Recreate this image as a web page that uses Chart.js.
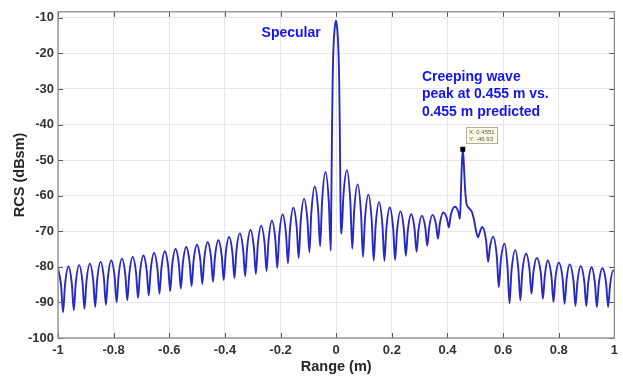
<!DOCTYPE html>
<html>
<head>
<meta charset="utf-8">
<script src="https://cdn.jsdelivr.net/npm/chart.js@4.4.1/dist/chart.umd.min.js"></script>
<style>
  html, body { margin: 0; padding: 0; background: #ffffff; }
  #wrap { width: 623px; height: 377px; }
</style>
</head>
<body>
<div id="wrap"><canvas id="c" width="623" height="377"></canvas></div>
<script>
// ---- data ----
const rangeM = [
-1.0000,-0.9888,-0.9818,-0.9748,-0.9625,-0.9503,-0.9433,-0.9363,-0.9240,-0.9118,-0.9048,-0.8978,
-0.8855,-0.8733,-0.8663,-0.8593,-0.8470,-0.8348,-0.8278,-0.8208,-0.8085,-0.7963,-0.7893,-0.7823,
-0.7700,-0.7578,-0.7508,-0.7438,-0.7315,-0.7193,-0.7123,-0.7053,-0.6930,-0.6808,-0.6738,-0.6668,
-0.6545,-0.6423,-0.6353,-0.6283,-0.6160,-0.6038,-0.5968,-0.5898,-0.5775,-0.5653,-0.5583,-0.5513,
-0.5390,-0.5268,-0.5198,-0.5128,-0.5005,-0.4883,-0.4813,-0.4743,-0.4620,-0.4498,-0.4428,-0.4358,
-0.4235,-0.4113,-0.4043,-0.3973,-0.3850,-0.3728,-0.3658,-0.3588,-0.3465,-0.3343,-0.3273,-0.3203,
-0.3080,-0.2958,-0.2888,-0.2818,-0.2695,-0.2573,-0.2503,-0.2433,-0.2310,-0.2188,-0.2118,-0.2048,
-0.1925,-0.1803,-0.1733,-0.1663,-0.1540,-0.1418,-0.1348,-0.1278,-0.1155,-0.1033,-0.0963,-0.0893,
-0.0770,-0.0648,-0.0578,-0.0508,-0.0385,-0.0263,-0.0195,-0.0178,-0.0163,-0.0148,-0.0128,-0.0098,
-0.0058,-0.0010,0.0038,0.0078,0.0108,0.0128,0.0143,0.0158,0.0190,0.0260,0.0385,0.0508,
0.0578,0.0648,0.0770,0.0893,0.0963,0.1033,0.1155,0.1278,0.1348,0.1418,0.1540,0.1663,
0.1733,0.1803,0.1925,0.2048,0.2118,0.2188,0.2310,0.2433,0.2503,0.2573,0.2695,0.2818,
0.2888,0.2958,0.3080,0.3203,0.3273,0.3343,0.3465,0.3588,0.3658,0.3728,0.3850,0.3980,
0.4050,0.4120,0.4270,0.4390,0.4450,0.4490,0.4520,0.4551,0.4585,0.4625,0.4670,0.4720,
0.4800,0.4880,0.4960,0.5030,0.5100,0.5165,0.5250,0.5390,0.5460,0.5530,0.5640,0.5775,
0.5845,0.5915,0.6050,0.6160,0.6230,0.6300,0.6440,0.6550,0.6620,0.6690,0.6830,0.6950,
0.7020,0.7090,0.7210,0.7360,0.7430,0.7500,0.7600,0.7740,0.7810,0.7880,0.8000,0.8140,
0.8210,0.8280,0.8390,0.8530,0.8600,0.8670,0.8790,0.8920,0.8990,0.9060,0.9180,0.9300,
0.9370,0.9440,0.9570,0.9705,0.9775,0.9845,0.9960,1.0000
];
const rcsDb = [
-80.3,-85.3,-92.8,-85.1,-79.9,-84.8,-92.2,-84.6,-79.5,-84.4,-91.8,-84.2,
-79.1,-84.0,-91.3,-83.7,-78.6,-83.4,-90.7,-83.2,-78.2,-82.9,-90.0,-82.6,
-77.7,-82.4,-89.4,-82.1,-77.2,-81.8,-88.8,-81.6,-76.8,-81.3,-88.1,-80.9,
-76.1,-80.7,-87.5,-80.4,-75.6,-80.1,-86.8,-79.7,-75.0,-79.4,-86.1,-79.1,
-74.4,-78.8,-85.4,-78.4,-73.8,-78.2,-84.8,-77.8,-73.1,-77.5,-84.2,-77.2,
-72.5,-77.0,-83.7,-76.4,-71.6,-76.2,-83.2,-75.6,-70.6,-75.4,-82.6,-74.8,
-69.6,-74.6,-82.0,-73.8,-68.4,-73.5,-81.2,-72.7,-67.0,-72.3,-80.3,-71.3,
-65.3,-70.8,-79.0,-69.6,-63.4,-69.0,-77.5,-67.5,-60.9,-66.9,-75.9,-64.8,
-57.4,-64.1,-74.2,-61.7,-53.3,-62.1,-75.4,-64.0,-52.0,-40.0,-28.0,-18.5,
-13.2,-10.8,-13.2,-18.5,-28.0,-40.0,-52.0,-64.0,-70.7,-60.0,-52.8,-61.6,
-74.9,-64.0,-56.8,-65.0,-77.2,-66.7,-59.7,-67.1,-78.2,-68.4,-61.8,-68.4,
-78.3,-69.3,-63.3,-69.2,-78.0,-69.8,-64.4,-69.4,-76.9,-69.9,-65.2,-69.4,
-75.8,-69.7,-65.6,-69.0,-74.1,-68.9,-65.4,-68.1,-72.1,-67.7,-64.7,-66.4,
-68.9,-65.4,-63.1,-64.5,-66.5,-57.5,-50.5,-46.93,-50.5,-57.0,-61.5,-63.0,
-63.7,-64.6,-67.0,-70.0,-71.7,-70.2,-68.8,-72.7,-78.6,-74.3,-71.5,-77.2,
-85.7,-78.4,-73.5,-80.2,-90.2,-81.3,-75.3,-80.9,-89.4,-81.5,-76.3,-80.8,
-87.6,-81.5,-77.5,-82.1,-89.0,-82.5,-78.2,-82.9,-89.9,-83.2,-78.8,-83.4,
-90.4,-83.7,-79.3,-84.0,-91.0,-84.3,-79.8,-84.3,-91.0,-84.5,-80.1,-84.6,
-91.3,-84.8,-80.4,-84.8,-91.3,-85.1,-81.0,-81.2
];
const tipX = [0.4551];
const tipY = [-46.93];
const xTicks = [-1, -0.8, -0.6, -0.4, -0.2, 0, 0.2, 0.4, 0.6, 0.8, 1];
const yTicks = [-100, -90, -80, -70, -60, -50, -40, -30, -20, -10];
const specularText = 'Specular';
const creepText = ['Creeping wave', 'peak at 0.455 m vs.', '0.455 m predicted'];

// ---- chart ----
const FONT = "'Liberation Sans', Arial, Helvetica, sans-serif";
const lineData = rangeM.map((x, i) => ({ x: x, y: rcsDb[i] }));
const tipData = tipX.map((x, i) => ({ x: x, y: tipY[i] }));

const matlabDecor = {
  id: 'matlabDecor',
  afterDraw(chart) {
    const { ctx, chartArea: a, scales } = chart;
    const xs = scales.x, ys = scales.y;
    ctx.save();
    // inward tick marks on all four sides
    ctx.strokeStyle = '#555555';
    ctx.lineWidth = 1;
    ctx.beginPath();
    xTicks.forEach(v => {
      const px = Math.round(xs.getPixelForValue(v)) + 0.5;
      ctx.moveTo(px, a.bottom); ctx.lineTo(px, a.bottom - 5);
      ctx.moveTo(px, a.top); ctx.lineTo(px, a.top + 5);
    });
    yTicks.forEach(v => {
      const py = Math.round(ys.getPixelForValue(v)) + 0.5;
      ctx.moveTo(a.left, py); ctx.lineTo(a.left + 5, py);
      ctx.moveTo(a.right, py); ctx.lineTo(a.right - 5, py);
    });
    ctx.stroke();
    // axes box
    ctx.strokeStyle = '#8c8c8c';
    ctx.lineWidth = 1.3;
    ctx.strokeRect(a.left, a.top, a.right - a.left, a.bottom - a.top);

    // annotations
    ctx.fillStyle = '#1414f0';
    ctx.font = 'bold 14px ' + FONT;
    ctx.textBaseline = 'middle';
    ctx.textAlign = 'center';
    ctx.fillText(specularText, xs.getPixelForValue(-0.162), ys.getPixelForValue(-14.2));
    ctx.textAlign = 'left';
    const cx = xs.getPixelForValue(0.308);
    const cy0 = ys.getPixelForValue(-26.6);
    creepText.forEach((t, i) => ctx.fillText(t, cx, cy0 + i * 17.5));

    // data tip box
    const mx = xs.getPixelForValue(tipX[0]);
    const my = ys.getPixelForValue(tipY[0]);
    const bx = Math.round(mx + 3) + 0.5, by = Math.round(my - 22) + 0.5;
    ctx.fillStyle = '#fbfbe6';
    ctx.strokeStyle = '#b0b0a0';
    ctx.lineWidth = 1;
    ctx.fillRect(bx, by, 31, 16);
    ctx.strokeRect(bx, by, 31, 16);
    ctx.fillStyle = '#555555';
    ctx.font = '6px ' + FONT;
    ctx.textBaseline = 'middle';
    ctx.fillText('X: ' + tipX[0].toFixed(4), bx + 2.5, by + 4.5);
    ctx.fillText('Y: ' + tipY[0].toFixed(2), bx + 2.5, by + 11.5);
    ctx.restore();
  }
};

new Chart(document.getElementById('c'), {
  type: 'line',
  data: {
    datasets: [
      {
        data: lineData,
        borderColor: '#2828c4',
        borderWidth: 1.9,
        pointRadius: 0,
        fill: false,
        cubicInterpolationMode: 'monotone',
        order: 2
      },
      {
        type: 'scatter',
        data: tipData,
        pointStyle: 'rect',
        pointRadius: 3.5,
        backgroundColor: '#000000',
        borderColor: '#000000',
        borderWidth: 0,
        order: 1
      }
    ]
  },
  options: {
    responsive: false,
    animation: false,
    devicePixelRatio: 1,
    layout: { padding: { left: 0, right: 5, top: 11, bottom: 0 } },
    plugins: { legend: { display: false }, tooltip: { enabled: false } },
    scales: {
      x: {
        type: 'linear',
        min: -1, max: 1,
        afterBuildTicks: s => { s.ticks = xTicks.map(v => ({ value: v })); },
        afterFit: s => { s.height = 39; },
        ticks: {
          padding: 5,
          color: '#333333',
          font: { family: FONT, size: 13, weight: 'bold' },
          maxRotation: 0,
          autoSkip: false,
          callback: v => String(v)
        },
        grid: { color: '#e6e6e6', lineWidth: 1, drawTicks: false },
        border: { display: false },
        title: {
          display: true,
          text: 'Range (m)',
          color: '#262626',
          font: { family: FONT, size: 14.5, weight: 'bold' },
          padding: { top: 0, bottom: 1 }
        }
      },
      y: {
        type: 'linear',
        min: -100, max: -8.3,
        afterBuildTicks: s => { s.ticks = yTicks.map(v => ({ value: v })); },
        afterFit: s => { s.width = 58; },
        ticks: {
          padding: 4,
          color: '#333333',
          font: { family: FONT, size: 13, weight: 'bold' },
          autoSkip: false,
          callback: v => String(v)
        },
        grid: { color: '#e6e6e6', lineWidth: 1, drawTicks: false },
        border: { display: false },
        title: {
          display: true,
          text: 'RCS (dBsm)',
          color: '#262626',
          font: { family: FONT, size: 14.5, weight: 'bold' },
          padding: { top: 11, bottom: 0 }
        }
      }
    }
  },
  plugins: [matlabDecor]
});
</script>
</body>
</html>
